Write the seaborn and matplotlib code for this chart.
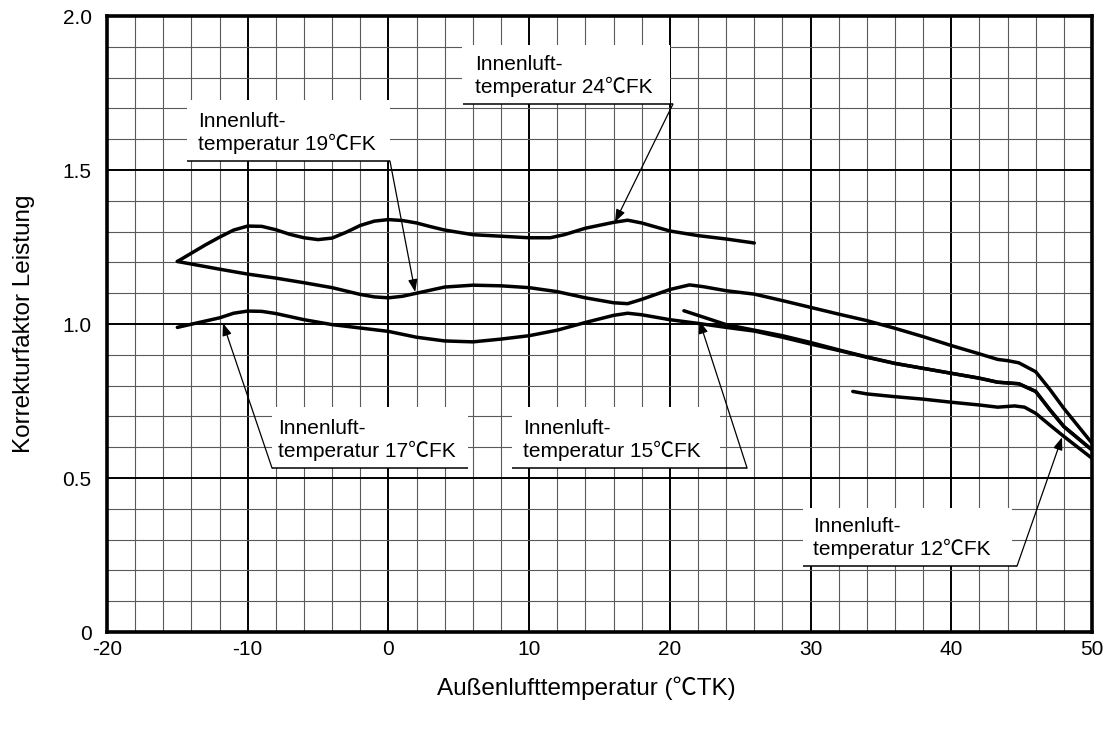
import numpy as np
import pandas as pd
import matplotlib
matplotlib.use("Agg")
import matplotlib.pyplot as plt
from matplotlib.ticker import MultipleLocator
from matplotlib.patches import Rectangle
import seaborn as sns

# ---------------- data ----------------
x24 = [-15, -13, -12, -11, -10, -9, -8, -7, -6, -5, -4, -3, -2, -1, 0, 1, 2, 3, 4,
       6, 8, 10, 11.5, 12.5, 14, 16, 17, 18, 20, 22, 24, 26]
y24 = [1.203, 1.257, 1.282, 1.305, 1.318, 1.317, 1.306, 1.291, 1.280, 1.274, 1.279,
       1.298, 1.320, 1.334, 1.339, 1.336, 1.328, 1.316, 1.305, 1.290, 1.285, 1.280,
       1.280, 1.290, 1.311, 1.330, 1.337, 1.328, 1.302, 1.287, 1.276, 1.263]

x19 = [-15, -12, -10, -8, -6, -4, -2, -1, 0, 1, 2, 4, 6, 8, 10, 12, 14, 16, 17, 18,
       20, 21.4, 22.4, 24, 26, 28, 30, 32, 34, 36, 38, 40, 42, 43.3, 44, 44.8, 46,
       47, 48, 50]
y19 = [1.203, 1.178, 1.162, 1.149, 1.134, 1.118, 1.096, 1.088, 1.085, 1.090, 1.100,
       1.120, 1.126, 1.124, 1.118, 1.105, 1.085, 1.069, 1.066, 1.080, 1.112, 1.127,
       1.121, 1.108, 1.097, 1.076, 1.054, 1.032, 1.011, 0.986, 0.959, 0.930, 0.903,
       0.885, 0.881, 0.874, 0.845, 0.788, 0.726, 0.613]

x17 = [-15, -12, -11, -10, -9, -8, -6, -4, -2, 0, 2, 4, 6, 8, 10, 12, 14, 16, 17,
       18, 20, 22, 24, 26, 28, 30, 32, 34, 36, 38, 40, 42, 43.3, 44.8, 46, 47, 48, 50]
y17 = [0.989, 1.020, 1.035, 1.042, 1.041, 1.034, 1.014, 0.998, 0.987, 0.976, 0.957,
       0.945, 0.942, 0.951, 0.962, 0.980, 1.005, 1.028, 1.035, 1.030, 1.014, 1.002,
       0.989, 0.977, 0.957, 0.935, 0.914, 0.892, 0.872, 0.856, 0.840, 0.824, 0.811,
       0.806, 0.781, 0.722, 0.667, 0.591]

x15 = [21, 22, 24, 26, 28, 30, 32, 34, 36, 38, 40, 42, 43.3, 44.8, 46, 47, 48, 50]
y15 = [1.043, 1.028, 0.998, 0.980, 0.962, 0.940, 0.916, 0.893, 0.872, 0.856, 0.840,
       0.824, 0.811, 0.806, 0.781, 0.722, 0.667, 0.591]

x12 = [33, 34, 36, 38, 40, 42, 43.3, 44.5, 45.2, 46, 47, 48, 50]
y12 = [0.781, 0.773, 0.764, 0.756, 0.746, 0.737, 0.730, 0.734, 0.730, 0.710, 0.672,
       0.635, 0.564]

series_names = ["24", "19", "17", "15", "12"]
xticks = [-20, -10, 0, 10, 20, 30, 40, 50]
xtick_labels = ["-20", "-10", "0", "10", "20", "30", "40", "50"]
yticks = [0, 0.5, 1.0, 1.5, 2.0]
ytick_labels = ["0", "0.5", "1.0", "1.5", "2.0"]

x_label = "Außenlufttemperatur (℃TK)"
y_label = "Korrekturfaktor Leistung"
label_template = "Innenluft-\ntemperatur {}℃FK"

frames = []
for name, xs, ys in zip(series_names, [x24, x19, x17, x15, x12],
                        [y24, y19, y17, y15, y12]):
    frames.append(pd.DataFrame({"x": xs, "y": ys, "series": name}))
df = pd.concat(frames, ignore_index=True)

# ---------------- style ----------------
sns.set_theme(style="white")
plt.rcParams["font.family"] = ["Liberation Sans", "Noto Sans CJK JP", "DejaVu Sans"]
FS_TICK = 15
FS_NOTE = 15
FS_LABEL = 17.5

fig = plt.figure(figsize=(11.13, 7.31), dpi=100)
ax = fig.add_axes([107 / 1113, 1 - 632 / 731, 985 / 1113, 616 / 731])

sns.lineplot(data=df, x="x", y="y", hue="series", units="series", estimator=None,
             sort=False, palette={n: "black" for n in series_names}, linewidth=2.5,
             legend=False, ax=ax, zorder=4)
for line in ax.get_lines():
    line.set_solid_joinstyle("round")

ax.set_xlim(-20, 50)
ax.set_ylim(0, 2.0)
ax.set_xticks(xticks)
ax.set_xticklabels(xtick_labels, fontsize=FS_TICK)
ax.set_yticks(yticks)
ax.set_yticklabels(ytick_labels, fontsize=FS_TICK)
ax.xaxis.set_minor_locator(MultipleLocator(2))
ax.yaxis.set_minor_locator(MultipleLocator(0.1))
ax.tick_params(which="both", length=0, colors="black")
ax.tick_params(axis="x", pad=6)
ax.tick_params(axis="y", pad=11)
ax.set_axisbelow(True)
ax.grid(which="minor", color="#5a5a5a", linewidth=0.8)
ax.grid(which="major", color="black", linewidth=1.4)
for s in ax.spines.values():
    s.set_visible(True)
    s.set_color("black")
    s.set_linewidth(2.6)
ax.set_xlabel(x_label, fontsize=FS_LABEL, color="black")
ax.xaxis.set_label_coords(0.487, -0.072)
ax.set_ylabel(y_label, fontsize=FS_LABEL, labelpad=20, color="black")

# ---------------- annotation boxes ----------------
# (temp, box x0, x1, y0, y1, underline x0, x1, text x, underline y, leader start, arrow tip)
labels = [
    ("24", 5.23, 20.01, 1.714, 1.906, 5.30, 20.22, 6.15, 1.714, (20.22, 1.714), (16.1, 1.331)),
    ("19", -14.31, 0.11, 1.529, 1.727, -14.31, 0.11, -13.53, 1.529, (0.11, 1.529), (1.9, 1.104)),
    ("17", -8.27, 5.66, 0.532, 0.731, -8.27, 5.66, -7.85, 0.532, (-8.27, 0.532), (-11.76, 1.003)),
    ("15", 8.78, 23.57, 0.532, 0.731, 8.78, 25.49, 9.57, 0.532, (25.49, 0.532), (22.1, 1.01)),
    ("12", 29.46, 44.32, 0.214, 0.403, 29.46, 44.67, 30.17, 0.214, (44.67, 0.214), (47.87, 0.632)),
]
for (t, bx0, bx1, by0, by1, ux0, ux1, tx, uy, start, tip) in labels:
    ax.add_patch(Rectangle((bx0, by0), bx1 - bx0, by1 - by0, facecolor="white",
                           edgecolor="none", zorder=5))
    ax.plot([ux0, ux1], [uy, uy], color="black", lw=1.1, zorder=6,
            solid_capstyle="butt")
    ax.text(tx, uy + 0.022, label_template.format(t), fontsize=FS_NOTE, ha="left",
            va="bottom", color="black", linespacing=1.2, zorder=7)
    ax.annotate("", xy=tip, xytext=start,
                arrowprops=dict(arrowstyle="-|>,head_length=0.75,head_width=0.28",
                                color="black", lw=0.9, shrinkA=0, shrinkB=0,
                                mutation_scale=10),
                zorder=7)

fig.savefig("out.png", dpi=100)
